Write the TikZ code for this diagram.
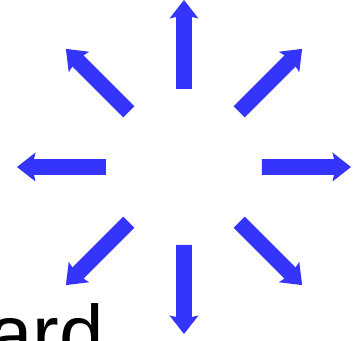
\documentclass[tikz,border=0pt]{standalone}
\usepackage{fontspec}
\setmainfont{Liberation Sans}
\definecolor{arrowblue}{RGB}{52,52,250}
\tikzset{
  radarrow/.style={fill=arrowblue, draw=none},
  bigtext/.style={inner sep=0pt, anchor=base west, text=black, font=\fontsize{80pt}{80pt}\selectfont}
}
\begin{document}
\begin{tikzpicture}[x=1pt,y=1pt]
\useasboundingbox (0,0) rectangle (360,341);
\clip (0,0) rectangle (360,341);
\fill[white] (0,0) rectangle (360,341);
\coordinate (C) at (184,174);
\foreach \ang in {0,45,...,315}{
  \begin{scope}[shift={(C)}, rotate=\ang]
    \fill[radarrow] (78,-7.8) -- (150,-7.8) -- (148.5,-14.5) -- (167,0) -- (148.5,14.5) -- (150,7.8) -- (78,7.8) -- cycle;
  \end{scope}
}
\node[bigtext] (txt) at (-12,-20.3) {ard};
\end{tikzpicture}
\end{document}
